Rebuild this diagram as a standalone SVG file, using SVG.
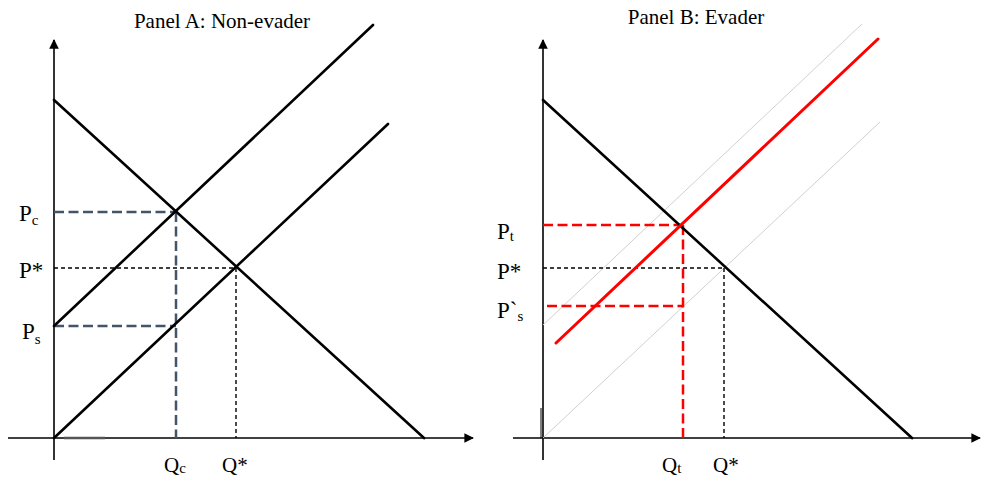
<svg xmlns="http://www.w3.org/2000/svg" width="982" height="480" viewBox="0 0 982 480">
<style>
.t{font-family:"Liberation Serif","Times New Roman",serif;fill:#000}
.title{font-size:21px}
.lp{font-size:23px}
.lq{font-size:21px}
.sub{font-size:15px}
.axis{stroke:#000;stroke-width:1.6;fill:none}
.curve{stroke:#000;stroke-width:2.6;fill:none;stroke-linecap:round}
.red{stroke:#ff0000;stroke-width:3;fill:none;stroke-linecap:round}
.gray{stroke:#d0d0d0;stroke-width:1;fill:none}
.dblue{stroke:#44546a;stroke-width:2.5;stroke-dasharray:10 4.5;fill:none}
.dred{stroke:#ff0000;stroke-width:2.5;stroke-dasharray:10 4.5;fill:none}
.dblk{stroke:#000;stroke-width:1.4;stroke-dasharray:4 3;fill:none}
</style>
<defs>
<marker id="arr" viewBox="0 0 10 10" refX="9" refY="5" markerWidth="6" markerHeight="6" orient="auto" markerUnits="strokeWidth">
<path d="M0,0 L10,5 L0,10 z" fill="#000"/>
</marker>
</defs>
<rect width="982" height="480" fill="#fff"/>

<g id="panelA">
<text class="t title" x="222" y="28" text-anchor="middle">Panel A: Non-evader</text>
<g id="axesA">
<line class="axis" x1="54" y1="460" x2="54" y2="40" marker-end="url(#arr)"/>
<line class="axis" x1="8" y1="438" x2="473" y2="438" marker-end="url(#arr)"/>
<line x1="64" y1="438" x2="105" y2="438" stroke="#555" stroke-width="2.4"/>
</g>
<g id="connectorsA">
<line class="dblue" x1="54" y1="212" x2="176" y2="212"/>
<line class="dblue" x1="54" y1="326" x2="176" y2="326"/>
<line class="dblue" x1="176" y1="212" x2="176" y2="438"/>
<line class="dblk" x1="54" y1="268" x2="236" y2="268"/>
<line class="dblk" x1="236" y1="268" x2="236" y2="438"/>
</g>
<g id="demandA"><line class="curve" x1="54" y1="100" x2="424" y2="438"/></g>
<g id="supplyA1"><line class="curve" x1="54" y1="438" x2="388" y2="124"/></g>
<g id="supplyA2"><line class="curve" x1="54" y1="326" x2="373" y2="25"/></g>
<g id="labelsA">
<text class="t lp" x="19" y="221">P<tspan class="sub" dy="4">c</tspan></text>
<text class="t lp" x="19" y="278">P*</text>
<text class="t lp" x="22" y="339">P<tspan class="sub" dy="5">s</tspan></text>
<text class="t lq" x="164" y="472">Q<tspan class="sub" dy="1">c</tspan></text>
<text class="t lq" x="222" y="472">Q*</text>
</g>
</g>

<g id="panelB">
<text class="t title" x="696" y="24" text-anchor="middle">Panel B: Evader</text>
<g id="axesB">
<line class="axis" x1="543" y1="460" x2="543" y2="40" marker-end="url(#arr)"/>
<line class="axis" x1="513" y1="438" x2="980" y2="438" marker-end="url(#arr)"/>
<line x1="541" y1="408" x2="541" y2="438" stroke="#000" stroke-width="1"/>
</g>
<g id="grayB">
<line class="gray" x1="543" y1="325" x2="862" y2="24"/>
<line class="gray" x1="543" y1="438" x2="880" y2="122"/>
</g>
<g id="connectorsB">
<line class="dred" x1="543" y1="225" x2="681" y2="225"/>
<line class="dred" x1="547" y1="306" x2="683" y2="306"/>
<line class="dred" x1="683" y1="225" x2="683" y2="438"/>
<line class="dblk" x1="543" y1="268" x2="724" y2="268"/>
<line class="dblk" x1="724" y1="268" x2="724" y2="438"/>
</g>
<g id="demandB"><line class="curve" x1="543" y1="100" x2="912" y2="438"/></g>
<g id="supplyB"><line class="red" x1="556" y1="343" x2="878" y2="39"/></g>
<g id="labelsB">
<text class="t lp" x="497" y="239">P<tspan class="sub" dy="2">t</tspan></text>
<text class="t lp" x="497" y="279">P*</text>
<text class="t lp" x="497" y="318">P`<tspan class="sub" dy="3">s</tspan></text>
<text class="t lq" x="662" y="472">Q<tspan class="sub" dy="1">t</tspan></text>
<text class="t lq" x="713" y="472">Q*</text>
</g>
</g>
</svg>
